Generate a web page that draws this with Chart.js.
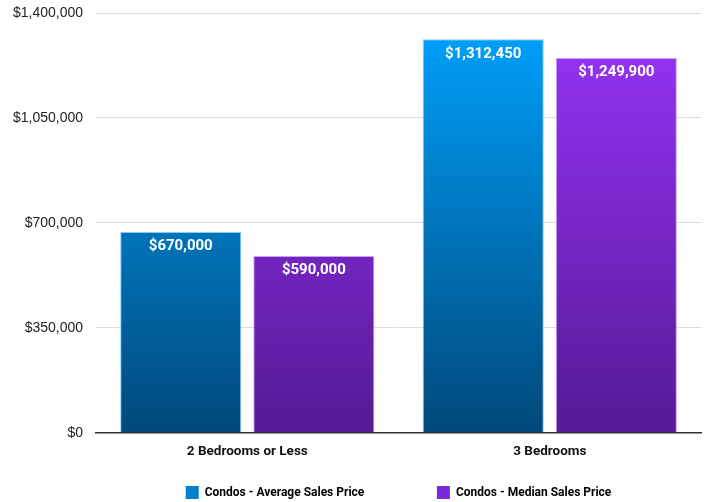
<!DOCTYPE html>
<html>
<head>
<meta charset="utf-8">
<script src="https://cdn.jsdelivr.net/npm/chart.js@4.4.0/dist/chart.umd.min.js"></script>
<style>
  html, body { margin: 0; padding: 0; background: #fff; }
  #wrap { width: 707px; height: 502px; }
</style>
</head>
<body>
<div id="wrap"><canvas id="chart"></canvas></div>
<script>
const categories = ["2 Bedrooms or Less", "3 Bedrooms"];
const averagePrice = [670000, 1312450];
const medianPrice = [590000, 1249900];
const seriesNames = ["Condos - Average Sales Price", "Condos - Median Sales Price"];
const yTicks = [0, 350000, 700000, 1050000, 1400000];

const boldFont = "'Roboto', 'Liberation Sans', sans-serif";

function money(v) {
    return "$" + v.toLocaleString("en-US");
}

// vertical gradient over the chart area
function gradient(top, bottom) {
    return function (context) {
        const area = context.chart.chartArea;
        if (!area) return top;
        const g = context.chart.ctx.createLinearGradient(0, area.top, 0, area.bottom);
        g.addColorStop(0, top);
        g.addColorStop(1, bottom);
        return g;
    };
}

// white value labels just inside the top of each bar
const valueLabels = {
    id: "valueLabels",
    afterDatasetsDraw(chart) {
        const ctx = chart.ctx;
        ctx.save();
        ctx.fillStyle = "#fff";
        ctx.font = "bold 15px " + boldFont;
        ctx.textAlign = "center";
        ctx.textBaseline = "top";
        chart.data.datasets.forEach(function (ds, i) {
            chart.getDatasetMeta(i).data.forEach(function (bar, j) {
                ctx.fillText(money(ds.data[j]), bar.x, bar.y + 7);
            });
        });
        ctx.restore();
    }
};

new Chart(document.getElementById("chart"), {
    type: "bar",
    data: {
        labels: categories,
        datasets: [{
            label: seriesNames[0],
            data: averagePrice,
            backgroundColor: gradient("#00a3ff", "#01497a"),
            borderColor: "rgba(120,200,255,0.9)",
            borderWidth: { top: 1, left: 1, right: 1, bottom: 0 },
            borderSkipped: "bottom",
        }, {
            label: seriesNames[1],
            data: medianPrice,
            backgroundColor: gradient("#9935fb", "#551a94"),
            borderColor: "rgba(200,150,255,0.9)",
            borderWidth: { top: 1, left: 1, right: 1, bottom: 0 },
            borderSkipped: "bottom",
        }],
    },
    options: {
        responsive: true,
        maintainAspectRatio: false,
        animation: false,
        categoryPercentage: 0.88,
        barPercentage: 0.91,
        layout: { padding: { top: 13, right: 6, left: 13, bottom: -7 } },
        plugins: {
            tooltip: { enabled: false },
            legend: {
                position: "bottom",
                fullSize: false,
                labels: {
                    boxWidth: 13,
                    boxHeight: 13,
                    padding: 4,
                    color: "#111",
                    font: { family: boldFont, size: 12, weight: "bold" },
                    generateLabels: function (chart) {
                        const fills = ["#0280c8", "#7a2ad8"];
                        return chart.data.datasets.map(function (ds, i) {
                            return {
                                text: ds.label + (i === 0 ? "                       " : ""),
                                fillStyle: fills[i],
                                strokeStyle: fills[i],
                                lineWidth: 0,
                                datasetIndex: i,
                            };
                        });
                    },
                },
            },
        },
        scales: {
            x: {
                grid: { display: false, drawTicks: false },
                border: { color: "#333", width: 1.5 },
                ticks: {
                    color: "#111",
                    padding: 11,
                    font: { family: boldFont, size: 13.5, weight: "bold" },
                },
                afterFit: function (axis) { axis.height += 11; },
            },
            y: {
                min: 0,
                max: 1400000,
                afterBuildTicks: function (axis) {
                    axis.ticks = yTicks.map(function (v) { return { value: v }; });
                },
                border: { display: false },
                grid: {
                    drawTicks: true,
                    tickLength: 13,
                    tickColor: "rgba(0,0,0,0)",
                    color: function (ctx) { return ctx.tick && ctx.tick.value === 0 ? "#333" : "#dcdcdc"; },
                    lineWidth: 1,
                },
                ticks: {
                    color: "#222",
                    padding: 0,
                    font: { family: "'Liberation Sans', Arial, sans-serif", size: 14 },
                    callback: function (v) { return money(v); },
                },
            },
        },
    },
    plugins: [valueLabels],
});
</script>
</body>
</html>
